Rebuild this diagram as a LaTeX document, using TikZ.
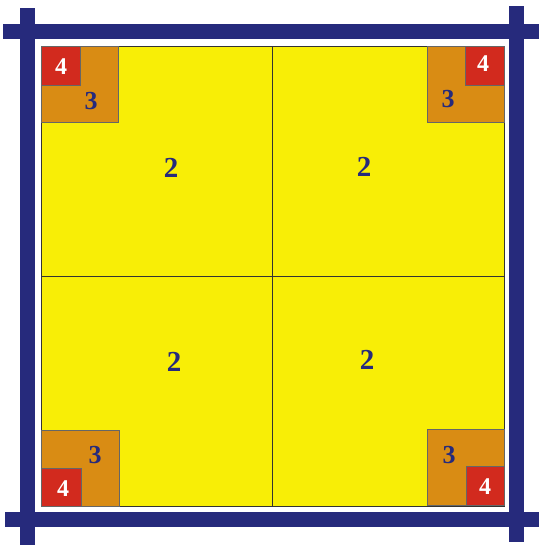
\documentclass[tikz,border=0pt]{standalone}
\usepackage{fontspec}
\setmainfont{Liberation Serif}
\definecolor{navy}{HTML}{262A7C}
\definecolor{fieldyellow}{HTML}{F8EE06}
\definecolor{boxorange}{HTML}{D98C14}
\definecolor{boxred}{HTML}{D22A1E}
\tikzset{
  bar/.style={fill=navy, draw=none},
  field/.style={fill=fieldyellow, draw=black!80, line width=0.6pt},
  orangebox/.style={fill=boxorange, draw=black!60, line width=0.5pt},
  redbox/.style={fill=boxred, draw=black!60, line width=0.5pt},
  twolabel/.style={text=navy, font=\fontsize{29}{29}\selectfont\bfseries, inner sep=0pt},
  threelabel/.style={text=navy, font=\fontsize{26}{26}\selectfont\bfseries, inner sep=0pt},
  fourlabel/.style={text=white, font=\fontsize{24}{24}\selectfont\bfseries, inner sep=0pt}
}
\begin{document}
\begin{tikzpicture}[x=1pt,y=-1pt]
\useasboundingbox (0,0) rectangle (539,545);
\fill[white] (0,0) rectangle (539,545);
% yellow quadrants
\path[field] (41,46) rectangle (272,276);
\path[field] (272,46) rectangle (504,276);
\path[field] (41,276) rectangle (272,506);
\path[field] (272,276) rectangle (504,506);
% corner boxes
\path[orangebox] (41,46) rectangle (118,122);
\path[redbox] (41,46) rectangle (80,85);
\path[orangebox] (427,46) rectangle (504,122);
\path[redbox] (465,46) rectangle (504,85);
\path[orangebox] (41,430) rectangle (119,506);
\path[redbox] (41,468) rectangle (81,506);
\path[orangebox] (427,429) rectangle (504,505);
\path[redbox] (466,466) rectangle (504,505);
% navy frame bars
\path[bar] (3,24) rectangle (539,39);
\path[bar] (20,8) rectangle (35,545);
\path[bar] (509,6) rectangle (524,542);
\path[bar] (5,512) rectangle (539,527);
% labels
\node[twolabel] (q1) at (171,168) {2};
\node[twolabel] (q2) at (364,167) {2};
\node[twolabel] (q3) at (174,362) {2};
\node[twolabel] (q4) at (367,360) {2};
\node[threelabel] (t1) at (91,101) {3};
\node[threelabel] (t2) at (448,99) {3};
\node[threelabel] (t3) at (95,455) {3};
\node[threelabel] (t4) at (449,455) {3};
\node[fourlabel] (f1) at (61,67) {4};
\node[fourlabel] (f2) at (483,64) {4};
\node[fourlabel] (f3) at (63,489) {4};
\node[fourlabel] (f4) at (485,487) {4};
\end{tikzpicture}
\end{document}
